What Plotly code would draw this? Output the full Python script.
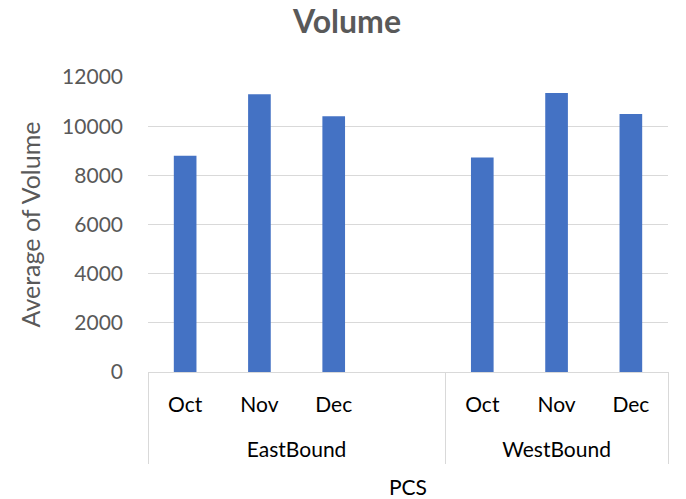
import plotly.graph_objects as go

groups = ["EastBound", "EastBound", "EastBound", "EastBound", "WestBound", "WestBound", "WestBound"]
months = ["Oct", "Nov", "Dec", " ", "Oct", "Nov", "Dec"]
volume = [8800, 11300, 10400, None, 8730, 11350, 10500]
y_ticks = [0, 2000, 4000, 6000, 8000, 10000, 12000]

# category positions and group geometry derived from the lists
x_pos = list(range(len(months)))
group_names = []
for g in groups:
    if g not in group_names:
        group_names.append(g)
group_centers = []
boundaries = [-0.5]
for g in group_names:
    idx = [i for i, gg in enumerate(groups) if gg == g]
    group_centers.append((idx[0] + idx[-1]) / 2)
    boundaries.append(idx[-1] + 0.5)
x_range = [-0.5, len(months) - 0.5]

font_family = "Lato, sans-serif"
GRID = "#d9d9d9"

# layout in pixels (page body has an 8px offset)
W, H = 678, 491
top_px, axis_px, label_box_px = 69, 364, 456
dom_bottom = (label_box_px - axis_px) / (label_box_px - top_px)

fig = go.Figure()
fig.add_trace(go.Bar(x=x_pos, y=volume, marker_color="#4472C4", marker_line_width=0,
                     hovertext=[f"{g} {m}" for g, m in zip(groups, months)]))
# invisible trace that registers the group-label axis
fig.add_trace(go.Scatter(x=group_centers, y=[None] * len(group_centers), xaxis="x2",
                         yaxis="y", mode="markers", hoverinfo="skip", showlegend=False))

fig.update_layout(
    width=W, height=H,
    margin=dict(l=140, r=18, t=top_px, b=H - label_box_px),
    paper_bgcolor="white", plot_bgcolor="white",
    bargap=0.695,
    showlegend=False,
    font=dict(family=font_family, size=21, color="#595959"),
    title=dict(text="<b>Volume</b>", x=0.5, xanchor="center",
               yref="container", y=1 - 3 / H, yanchor="top",
               font=dict(family=font_family, size=32, color="#595959")),
    yaxis=dict(domain=[dom_bottom, 1], range=[0, 12000], tickvals=y_ticks, tickformat="d",
               showgrid=True, gridcolor=GRID, gridwidth=1.3, zeroline=False,
               showline=False, ticks="", ticklabelstandoff=24, automargin=False,
               tickfont=dict(size=21, color="#595959"),
               title=dict(text="Average of Volume", font=dict(size=25, color="#595959"),
                          standoff=14)),
    xaxis=dict(type="linear", range=x_range, tickvals=x_pos, ticktext=months,
               showgrid=False, zeroline=False, showline=True, linecolor=GRID,
               linewidth=1.3, ticks="", automargin=False, ticklabelstandoff=14,
               tickfont=dict(color="#000000", size=21)),
    xaxis2=dict(type="linear", range=x_range, overlaying="x", anchor="free", position=0,
                side="bottom", tickvals=group_centers, ticktext=group_names,
                ticks="", ticklabelposition="inside", ticklabelstandoff=0,
                showgrid=False, zeroline=False, showline=False, automargin=False,
                minor=dict(tickvals=boundaries, ticks="inside",
                           ticklen=label_box_px - axis_px, tickcolor=GRID, tickwidth=1.3),
                tickfont=dict(color="#000000", size=21),
                title=dict(text="PCS", font=dict(size=21, color="#000000"), standoff=20)),
)

fig.write_html("out.html")
